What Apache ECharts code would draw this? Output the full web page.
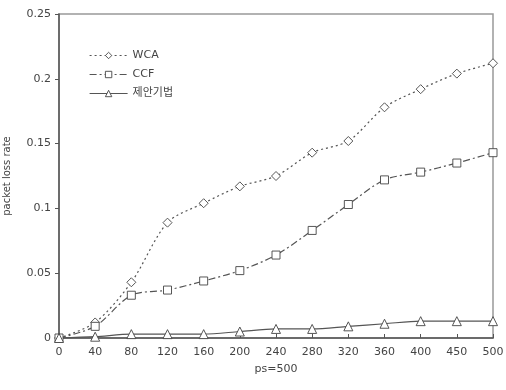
<!DOCTYPE html>
<html>
<head>
<meta charset="utf-8">
<script src="https://cdn.jsdelivr.net/npm/echarts@6/dist/echarts.min.js"></script>
<style>
  html, body { margin: 0; padding: 0; background: #fff; }
  #chart { width: 506px; height: 390px; }
</style>
</head>
<body>
<div id="chart"></div>
<script>
// x categories (ps values)
var categories = ['0', '40', '80', '120', '160', '200', '240', '280', '320', '360', '400', '450', '500'];
// series values
var wcaValues = [0, 0.012, 0.043, 0.089, 0.104, 0.117, 0.125, 0.143, 0.152, 0.178, 0.192, 0.204, 0.212];
var ccfValues = [0, 0.009, 0.033, 0.037, 0.044, 0.052, 0.064, 0.083, 0.103, 0.122, 0.128, 0.135, 0.143];
var propValues = [0, 0.001, 0.003, 0.003, 0.003, 0.005, 0.007, 0.007, 0.009, 0.011, 0.013, 0.013, 0.013];
var seriesNames = ['WCA', 'CCF', '제안기법'];

var font = 'DejaVu Sans, "Noto Sans CJK KR", sans-serif';
var ink = '#555';

var chart = echarts.init(document.getElementById('chart'));

function makeSeries(name, values, symbol, size, dash) {
    return {
        name: name,
        type: 'line',
        data: values,
        smooth: 0.3,
        symbol: symbol,
        symbolSize: size,
        showSymbol: true,
        animation: false,
        lineStyle: {color: ink, width: 1.2, type: dash},
        // white fill + thin outline, like the hollow markers
        itemStyle: {color: '#fff', borderColor: '#444', borderWidth: 0.9}
    };
}

var option = {
    animation: false,
    grid: {
        left: 59, right: 13, top: 14, bottom: 52,
        containLabel: false,
        outerBoundsMode: 'none',
        show: true,
        borderColor: '#999',
        borderWidth: 1.5
    },
    legend: {
        orient: 'vertical',
        left: 84,
        top: 45,
        itemWidth: 38,
        itemHeight: 8,
        itemGap: 8,
        itemStyle: {color: '#fff', borderColor: '#444', borderWidth: 0.9},
        lineStyle: {width: 1.2},
        textStyle: {fontFamily: font, fontSize: 11, color: '#444'},
        data: seriesNames
    },
    xAxis: {
        type: 'category',
        data: categories,
        boundaryGap: false,
        name: 'ps=500',
        nameLocation: 'middle',
        nameGap: 26,
        nameTextStyle: {fontFamily: font, fontSize: 11, color: '#444'},
        axisLine: {lineStyle: {color: ink, width: 1.5}},
        axisTick: {inside: true, length: 4, alignWithLabel: true, lineStyle: {color: ink}},
        axisLabel: {fontFamily: font, fontSize: 11, color: '#444', margin: 9, interval: 0},
        splitLine: {show: false}
    },
    yAxis: {
        type: 'value',
        min: 0,
        max: 0.25,
        interval: 0.05,
        name: 'packet loss rate',
        nameLocation: 'middle',
        nameGap: 47,
        nameTextStyle: {fontFamily: font, fontSize: 10, color: '#444'},
        axisLine: {show: true, lineStyle: {color: ink, width: 1.5}},
        axisTick: {show: true, length: 4, lineStyle: {color: ink}},
        axisLabel: {
            fontFamily: font, fontSize: 11, color: '#444', margin: 8,
            formatter: function (v) { return String(Math.round(v * 100) / 100); }
        },
        splitLine: {show: false}
    },
    series: [
        makeSeries(seriesNames[0], wcaValues, 'diamond', 9, [2, 3]),
        makeSeries(seriesNames[1], ccfValues, 'rect', 8, [7, 3, 2, 3]),
        makeSeries(seriesNames[2], propValues, 'triangle', 9, 'solid')
    ]
};
chart.setOption(option);
</script>
</body>
</html>
